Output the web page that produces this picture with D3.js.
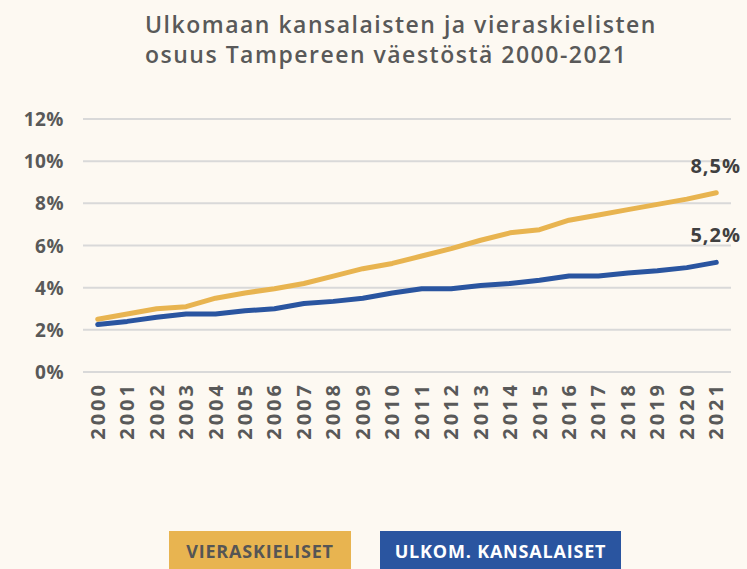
<!DOCTYPE html>
<html>
<head>
<meta charset="utf-8">
<script src="https://cdn.jsdelivr.net/npm/d3@7"></script>
<style>
body { margin: 0; background: #fdf9f2; }
text { font-family: "Open Sans", "Noto Sans", sans-serif; }
</style>
</head>
<body>
<div id="canvas"></div>
<script>
// ----------------------------------------------------------
// DATA -----------------------------------------------------
// ----------------------------------------------------------
var years = ["2000","2001","2002","2003","2004","2005","2006","2007","2008","2009","2010",
  "2011","2012","2013","2014","2015","2016","2017","2018","2019","2020","2021"];
// vieraskieliset, %
var values_vieras = [2.5, 2.75, 3.0, 3.1, 3.5, 3.75, 3.95, 4.2, 4.55, 4.9, 5.15,
  5.5, 5.85, 6.25, 6.6, 6.75, 7.2, 7.45, 7.7, 7.95, 8.2, 8.5];
// ulkomaan kansalaiset, %
var values_ulkom = [2.25, 2.4, 2.6, 2.75, 2.75, 2.9, 3.0, 3.25, 3.35, 3.5, 3.75,
  3.95, 3.95, 4.1, 4.2, 4.35, 4.55, 4.55, 4.7, 4.8, 4.95, 5.2];
var y_ticks = [0, 2, 4, 6, 8, 10, 12];
var series_names = ["VIERASKIELISET", "ULKOM. KANSALAISET"];
var end_labels = ["8,5%", "5,2%"];

// ----------------------------------------------------------
// STRUCTURE ------------------------------------------------
// ----------------------------------------------------------
var W = 747, H = 569;
var col_yellow = "#e8b450", col_blue = "#2a55a0", col_text = "#595959";

var svg = d3.select("#canvas").append("svg")
.attr("width", W)
.attr("height", H)
.style("background-color", "#fdf9f2");

var x = d3.scaleBand().domain(years).range([83, 731]);
var y = d3.scaleLinear().domain([0, 12]).range([372, 119]);

// ----------------------------------------------------------
// GRID & AXES ----------------------------------------------
// ----------------------------------------------------------
svg.append("g").selectAll("line")
.data(y_ticks)
.enter().append("line")
.attr("x1", 83).attr("x2", 731)
.attr("y1", function(d) { return y(d); })
.attr("y2", function(d) { return y(d); })
.style("stroke", "#d9d9d9")
.style("stroke-width", 2);

svg.append("g").selectAll("text")
.data(y_ticks)
.enter().append("text")
.attr("x", 64)
.attr("y", function(d) { return y(d) + 7; })
.attr("text-anchor", "end")
.style("font-size", "19px")
.style("font-weight", 700)
.style("letter-spacing", "0.5px")
.style("fill", col_text)
.text(function(d) { return d + "%"; });

// years, rotated
svg.append("g").selectAll("text")
.data(years)
.enter().append("text")
.attr("transform", function(d) {
  return "translate(" + (x(d) + x.bandwidth() / 2 + 7) + ",382) rotate(-90)";
})
.attr("text-anchor", "end")
.style("font-size", "20px")
.style("font-weight", 700)
.style("letter-spacing", "3px")
.style("fill", col_text)
.text(function(d) { return d; });

// ----------------------------------------------------------
// LINES ----------------------------------------------------
// ----------------------------------------------------------
var line = d3.line()
.x(function(d, i) { return x(years[i]) + x.bandwidth() / 2; })
.y(function(d) { return y(d); });

var series = [values_vieras, values_ulkom];
var colors = [col_yellow, col_blue];

svg.append("g").selectAll("path")
.data(series)
.enter().append("path")
.attr("d", line)
.style("fill", "none")
.style("stroke", function(d, i) { return colors[i]; })
.style("stroke-width", 5)
.style("stroke-linecap", "round")
.style("stroke-linejoin", "round");

// end labels
svg.append("g").selectAll("text")
.data(series)
.enter().append("text")
.attr("x", 741)
.attr("y", function(d) { return y(d[d.length - 1]) - 20; })
.attr("text-anchor", "end")
.style("font-size", "20px")
.style("font-weight", 700)
.style("letter-spacing", "1px")
.style("fill", "#404040")
.text(function(d, i) { return end_labels[i]; });

// ----------------------------------------------------------
// TEXT -----------------------------------------------------
// ----------------------------------------------------------
var title = svg.append("text")
.style("font-size", "23px")
.style("font-weight", 600)
.style("letter-spacing", "1.5px")
.style("fill", col_text);
title.append("tspan").attr("x", 145).attr("y", 33).text("Ulkomaan kansalaisten ja vieraskielisten");
title.append("tspan").attr("x", 145).attr("y", 63).text("osuus Tampereen väestöstä 2000-2021");

// legend
var legend = [
  { x: 169, w: 182, fill: col_yellow, text_fill: "#555555" },
  { x: 380, w: 241, fill: col_blue, text_fill: "#ffffff" }
];
var lg = svg.append("g").selectAll("g")
.data(legend)
.enter().append("g");
lg.append("rect")
.attr("x", function(d) { return d.x; })
.attr("y", 531)
.attr("width", function(d) { return d.w; })
.attr("height", 40)
.style("fill", function(d) { return d.fill; });
lg.append("text")
.attr("x", function(d) { return d.x + d.w / 2; })
.attr("y", 558)
.attr("text-anchor", "middle")
.style("font-size", "18px")
.style("font-weight", 700)
.style("letter-spacing", "0.8px")
.style("fill", function(d) { return d.text_fill; })
.text(function(d, i) { return series_names[i]; });
</script>
</body>
</html>
